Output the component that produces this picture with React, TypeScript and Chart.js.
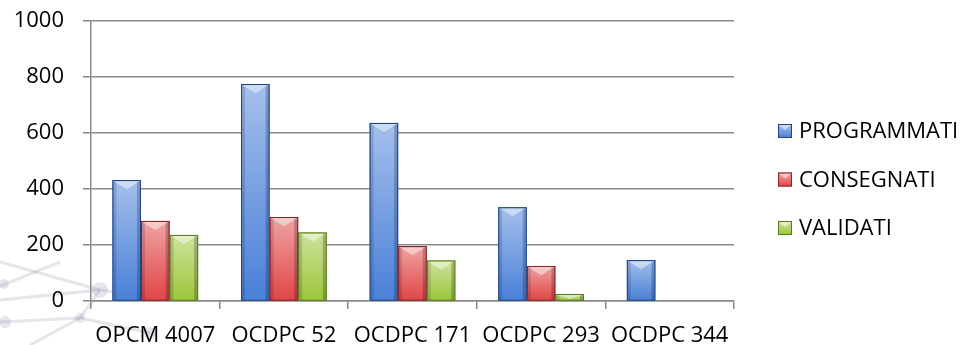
import { useEffect, useRef } from 'react';
import { Chart, registerables } from 'chart.js';

Chart.register(...registerables);

// Categories and series
const categories = ['OPCM 4007', 'OCDPC 52', 'OCDPC 171', 'OCDPC 293', 'OCDPC 344'];
const programmati: (number | null)[] = [432, 775, 636, 335, 146];
const consegnati: (number | null)[] = [286, 300, 196, 125, null];
const validati: (number | null)[] = [236, 245, 145, 25, null];
const seriesNames = ['PROGRAMMATI', 'CONSEGNATI', 'VALIDATI'];
const yTicks = [0, 200, 400, 600, 800, 1000];

const FONT = '"Open Sans", "DejaVu Sans", sans-serif';
const GRID = '#8a8a8a';

const fills = ['#4a80d8', '#e04646', '#9cc63a'];
const edges = ['#1f4482', '#862222', '#5a781c'];

// Faint network decoration in the lower-left corner
const networkBackdrop = {
  id: 'networkBackdrop',
  beforeDraw(chart: Chart) {
    const { ctx } = chart;
    ctx.save();
    ctx.strokeStyle = 'rgba(150,150,175,0.25)';
    ctx.lineWidth = 3;
    const segs = [
      [0, 262, 100, 290],
      [0, 300, 100, 290],
      [100, 290, 175, 300],
      [0, 322, 80, 318],
      [80, 318, 150, 333],
      [30, 345, 80, 318],
      [100, 290, 80, 318],
      [0, 286, 60, 262],
    ];
    segs.forEach(([a, b, c, d]) => {
      ctx.beginPath();
      ctx.moveTo(a, b);
      ctx.lineTo(c, d);
      ctx.stroke();
    });
    ctx.fillStyle = 'rgba(150,150,180,0.25)';
    [[100, 290, 8], [80, 318, 5], [150, 333, 6], [4, 284, 5], [5, 322, 6]].forEach(([x, y, r]) => {
      ctx.beginPath();
      ctx.arc(x, y, r, 0, Math.PI * 2);
      ctx.fill();
    });
    ctx.restore();
  },
};

// Bevelled look on each bar
const bevelBars = {
  id: 'bevelBars',
  afterDatasetsDraw(chart: Chart) {
    const { ctx } = chart;
    ctx.save();
    chart.data.datasets.forEach((ds, di) => {
      const meta = chart.getDatasetMeta(di);
      meta.data.forEach((el: any, i) => {
        if (ds.data[i] == null) return;
        const { x, y, base, width } = el.getProps(['x', 'y', 'base', 'width'], true);
        const left = x - width / 2;
        const right = x + width / 2;
        const h = base - y;
        if (h <= 0) return;
        const g = ctx.createLinearGradient(0, y, 0, base);
        g.addColorStop(0, 'rgba(255,255,255,0.5)');
        g.addColorStop(1, 'rgba(255,255,255,0)');
        ctx.fillStyle = g;
        ctx.fillRect(left + 1, y + 1, width - 2, h - 1);
        ctx.fillStyle = 'rgba(0,0,30,0.14)';
        ctx.fillRect(left + 1, y + 1, 3, h - 1);
        ctx.fillStyle = 'rgba(0,0,30,0.22)';
        ctx.fillRect(right - 4, y + 1, 3, h - 1);
        const d = Math.min(h - 1, width * 0.32);
        ctx.fillStyle = 'rgba(255,255,255,0.45)';
        ctx.beginPath();
        ctx.moveTo(left + 1, y + 1);
        ctx.lineTo(right - 1, y + 1);
        ctx.lineTo(x, y + d);
        ctx.closePath();
        ctx.fill();
        ctx.strokeStyle = edges[di];
        ctx.lineWidth = 1;
        ctx.strokeRect(left + 0.5, y + 0.5, width - 1, h - 0.5);
      });
    });
    ctx.restore();
  },
};

// Series key on the right
const sideLegend = {
  id: 'sideLegend',
  afterDraw(chart: Chart) {
    const { ctx } = chart;
    ctx.save();
    chart.data.datasets.forEach((ds, i) => {
      const cy = 131 + i * 48.5;
      const bx = 778;
      const s = 14;
      const by = cy - s / 2;
      ctx.fillStyle = fills[i];
      ctx.fillRect(bx, by, s, s);
      const g = ctx.createLinearGradient(0, by, 0, by + s);
      g.addColorStop(0, 'rgba(255,255,255,0.5)');
      g.addColorStop(1, 'rgba(255,255,255,0)');
      ctx.fillStyle = g;
      ctx.fillRect(bx, by, s, s);
      ctx.fillStyle = 'rgba(255,255,255,0.5)';
      ctx.beginPath();
      ctx.moveTo(bx + 1, by + 1);
      ctx.lineTo(bx + s - 1, by + 1);
      ctx.lineTo(bx + s / 2, by + s * 0.45);
      ctx.closePath();
      ctx.fill();
      ctx.strokeStyle = edges[i];
      ctx.lineWidth = 1;
      ctx.strokeRect(bx + 0.5, by + 0.5, s - 1, s - 1);
      ctx.fillStyle = '#000';
      ctx.font = `22px ${FONT}`;
      ctx.textBaseline = 'middle';
      ctx.textAlign = 'left';
      ctx.fillText(String(ds.label), 799, cy + 1);
    });
    ctx.restore();
  },
};

export default function App() {
  const ref = useRef<HTMLCanvasElement | null>(null);

  useEffect(() => {
    if (!ref.current) return;
    const series = [programmati, consegnati, validati];
    const chart = new Chart(ref.current, {
      type: 'bar',
      data: {
        labels: categories,
        datasets: series.map((data, i) => ({
          label: seriesNames[i],
          data,
          backgroundColor: fills[i],
          borderColor: edges[i],
          borderWidth: 0,
          categoryPercentage: 0.667,
          barPercentage: 1,
        })),
      },
      options: {
        animation: false,
        responsive: false,
        devicePixelRatio: 1,
        layout: { padding: { top: 21, right: 238, left: 0, bottom: 0 } },
        plugins: {
          legend: { display: false },
          tooltip: { enabled: false },
        },
        scales: {
          x: {
            offset: true,
            grid: {
              offset: true,
              drawOnChartArea: false,
              drawTicks: true,
              tickLength: 8,
              color: GRID,
              lineWidth: 1.5,
            },
            border: { display: true, color: GRID, width: 1.5 },
            ticks: {
              color: '#000',
              font: { family: FONT, size: 22 },
              padding: 14,
              maxRotation: 0,
              autoSkip: false,
            },
            afterFit: (s: any) => {
              s.height = 44;
              s.paddingLeft = 0;
              s.paddingRight = 0;
            },
          },
          y: {
            min: yTicks[0],
            max: yTicks[yTicks.length - 1],
            afterBuildTicks: (s: any) => {
              s.ticks = yTicks.map((v) => ({ value: v }));
            },
            grid: {
              color: GRID,
              lineWidth: 1.5,
              tickLength: 8,
              drawTicks: true,
            },
            border: { display: true, color: GRID, width: 1.5 },
            ticks: {
              color: '#000',
              font: { family: FONT, size: 22 },
              padding: 19,
              callback: (v: any) => String(v),
            },
            afterFit: (s: any) => {
              s.width = 91;
              s.paddingTop = 0;
              s.paddingBottom = 0;
            },
          },
        },
      },
      plugins: [networkBackdrop, bevelBars, sideLegend],
    });
    return () => chart.destroy();
  }, []);

  return (
    <div style={{ position: 'absolute', left: 0, top: 0, width: 972, height: 345, background: '#fff' }}>
      <canvas ref={ref} width={972} height={345} style={{ display: 'block' }} />
    </div>
  );
}
